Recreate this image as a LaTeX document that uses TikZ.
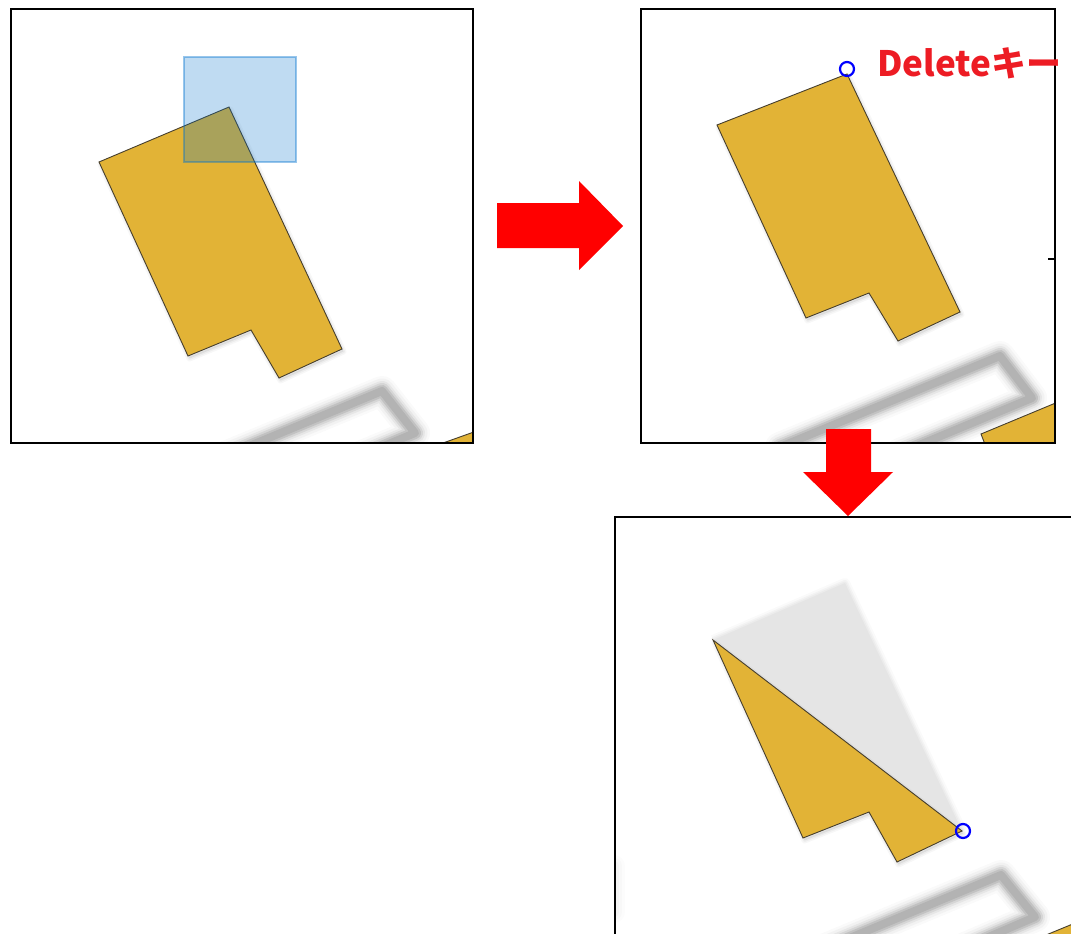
\documentclass[tikz,border=0pt]{standalone}
\usepackage{fontspec}
\newfontfamily\jpfont{Noto Sans CJK JP}
\definecolor{bldg}{RGB}{226,179,54}
\definecolor{bldgline}{RGB}{70,62,45}
\definecolor{selblue}{RGB}{0,113,205}
\definecolor{ghostgray}{RGB}{150,150,150}
\definecolor{lightghost}{RGB}{229,229,229}
\definecolor{txtred}{RGB}{237,28,36}
\tikzset{
  panel/.style={draw=black,line width=1.8pt},
  building/.style={fill=bldg,draw=bldgline,line width=0.9pt,line join=miter},
  blockarrow/.style={fill=red,draw=none},
  vertexmark/.style={circle,draw=blue,line width=2.2pt,fill=none,minimum size=14pt,inner sep=0pt},
  keylabel/.style={anchor=base west,text=txtred,inner sep=0pt,font=\jpfont\bfseries\fontsize{35}{40}\selectfont},
}
\newcommand\blurline[1]{%
  \foreach \w/\o in {30/0.05,25/0.08,20/0.13,16/0.2,12/0.3,8/0.35}{\draw[line width=\w pt,draw=ghostgray,opacity=\o,line join=round,line cap=round] #1;}}
\newcommand\softshadow[1]{%
  \foreach \w/\o in {6/0.03,3/0.04}{\filldraw[black,opacity=\o,line width=\w pt,line join=round,shift={(1.5,2.5)}] #1;}}
\begin{document}
\begin{tikzpicture}[x=1pt,y=-1pt]
\useasboundingbox (0,0) rectangle (1071,934);

% ---------- panel 1 ----------
\begin{scope}
  \clip (11,9) rectangle (473,443);
  \blurline{(160,483) -- (382,391) -- (415,433) -- (300,481)}
  \softshadow{(99,162) -- (229,107) -- (342,349) -- (279,378) -- (251,330) -- (188,356) -- cycle}
  \draw[building] (443,443) -- (485,428) -- (485,460) -- (449,460) -- cycle;
  \draw[building] (99,162) -- (229,107) -- (342,349) -- (279,378) -- (251,330) -- (188,356) -- cycle;
  \fill[selblue,fill opacity=0.25] (184,57) rectangle (296,162);
  \draw[selblue,draw opacity=0.4,line width=1.2pt] (184,57) rectangle (296,162);
\end{scope}
\draw[panel] (11,9) rectangle (473,443);

% ---------- panel 2 ----------
\begin{scope}
  \clip (641,9) rectangle (1055,443);
  \blurline{(780,447) -- (1000,356) -- (1032,398) -- (900,453)}
  \softshadow{(717,125) -- (847,74) -- (960,312) -- (898,341) -- (869,293) -- (806,318) -- cycle}
  \draw[building] (981,434) -- (1070,397) -- (1070,460) -- (991,460) -- cycle;
  \draw[building] (717,125) -- (847,74) -- (960,312) -- (898,341) -- (869,293) -- (806,318) -- cycle;
\end{scope}
\draw[panel] (641,9) rectangle (1055,443);
\draw[black,line width=1.5pt] (1048,259) -- (1055,259);
\node[vertexmark] (v1) at (847,69) {};
\node[keylabel] (delkey) at (877,77) {Deleteキー};

% ---------- panel 3 ----------
\begin{scope}
  \clip (615,517) rectangle (1071,934);
  \foreach \w/\o in {10/0.2,6/0.35,3/0.5}{\draw[lightghost,opacity=\o,line width=\w pt,line join=round] (713,640) -- (845,583) -- (962,831);}
  \fill[lightghost] (713,640) -- (845,583) -- (962,831) -- cycle;
  \blurline{(780,967) -- (1001,875) -- (1035,917) -- (900,975)}
  \foreach \w/\o in {22/0.03,16/0.04,10/0.05}{\draw[ghostgray,opacity=\o,line width=\w pt,line cap=round] (614,866) -- (614,912);}
  \softshadow{(713,640) -- (962,831) -- (897,862) -- (869,812) -- (803,838) -- cycle}
  \draw[building] (1046,935) -- (1080,921) -- (1080,950) -- (1052,950) -- cycle;
  \draw[building] (713,640) -- (962,831) -- (897,862) -- (869,812) -- (803,838) -- cycle;
\end{scope}
\draw[panel] (615,940) -- (615,517) -- (1080,517);
\node[vertexmark] (v2) at (963,831) {};

% ---------- arrows ----------
\fill[blockarrow] (497,203) -- (579,203) -- (579,181) -- (623,226) -- (579,270) -- (579,248) -- (497,248) -- cycle;
\fill[blockarrow] (826,429) -- (871,429) -- (871,472) -- (893,472) -- (848,516) -- (803,472) -- (826,472) -- cycle;
\end{tikzpicture}
\end{document}
